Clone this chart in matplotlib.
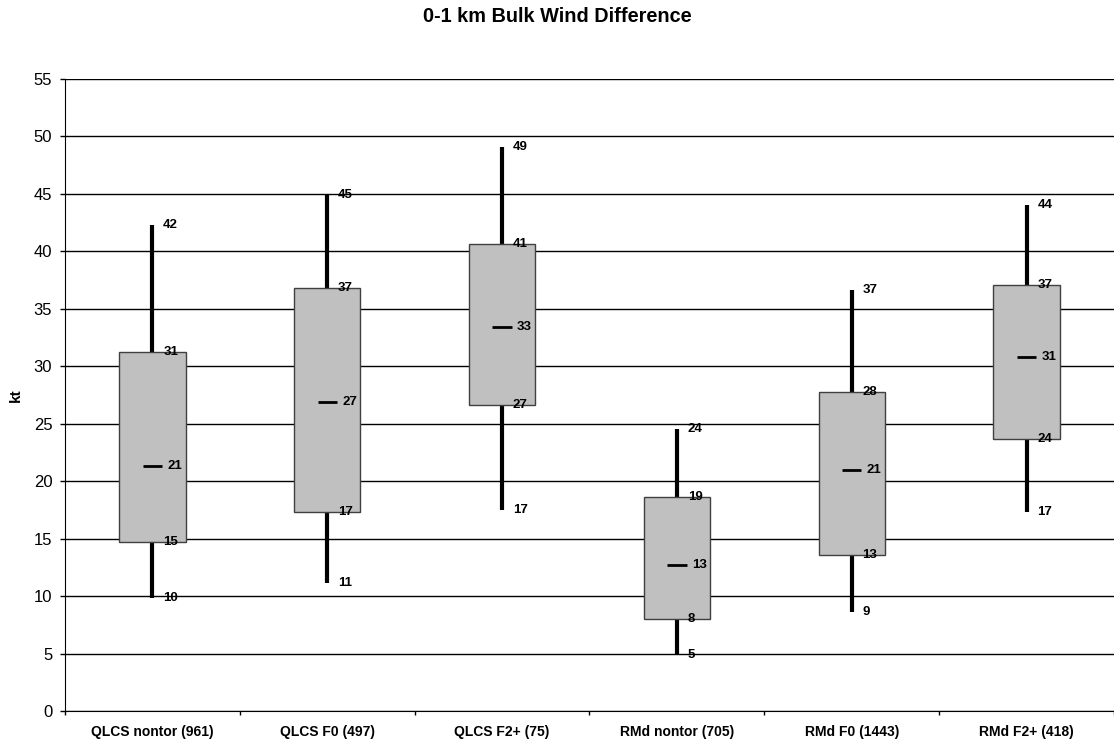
import matplotlib.pyplot as plt
from matplotlib.patches import Rectangle

plt.rcParams['font.family'] = ['Liberation Sans', 'DejaVu Sans']

categories = ["QLCS nontor (961)", "QLCS F0 (497)", "QLCS F2+ (75)",
              "RMd nontor (705)", "RMd F0 (1443)", "RMd F2+ (418)"]
whisker_low = [9.8, 11.1, 17.5, 4.9, 8.6, 17.3]
q1 = [14.7, 17.3, 26.6, 8.0, 13.6, 23.7]
median = [21.3, 26.9, 33.4, 12.7, 21.0, 30.8]
q3 = [31.2, 36.8, 40.6, 18.6, 27.8, 37.1]
whisker_high = [42.3, 44.9, 49.1, 24.5, 36.6, 44.0]

label_low = ["10", "11", "17", "5", "9", "17"]
label_q1 = ["15", "17", "27", "8", "13", "24"]
label_med = ["21", "27", "33", "13", "21", "31"]
label_q3 = ["31", "37", "41", "19", "28", "37"]
label_high = ["42", "45", "49", "24", "37", "44"]

fig = plt.figure(figsize=(11.14, 7.42), dpi=100)
ax = fig.add_axes([0.0583, 0.0418, 0.9417, 0.8518])

box_w = 0.38
lab_fs = 9.5
for i in range(len(categories)):
    c = i + 0.5
    ax.plot([c, c], [whisker_low[i], whisker_high[i]], color="black", lw=3,
            solid_capstyle="butt", zorder=2)
    ax.add_patch(Rectangle((c - box_w / 2, q1[i]), box_w, q3[i] - q1[i],
                           facecolor="#c0c0c0", edgecolor="#404040", lw=1, zorder=3))
    ax.plot([c - 0.055, c + 0.055], [median[i], median[i]], color="black", lw=2,
            solid_capstyle="butt", zorder=4)
    dx = 0.062
    ax.text(c + dx, whisker_high[i], label_high[i], fontsize=lab_fs, fontweight="bold",
            va="center", ha="left", zorder=5)
    ax.text(c + dx, q3[i], label_q3[i], fontsize=lab_fs, fontweight="bold",
            va="center", ha="left", zorder=5)
    ax.text(c + 0.085, median[i], label_med[i], fontsize=lab_fs, fontweight="bold",
            va="center", ha="left", zorder=5)
    ax.text(c + dx, q1[i], label_q1[i], fontsize=lab_fs, fontweight="bold",
            va="center", ha="left", zorder=5)
    ax.text(c + dx, whisker_low[i], label_low[i], fontsize=lab_fs, fontweight="bold",
            va="center", ha="left", zorder=5)

ax.set_xlim(0, len(categories))
ax.set_ylim(0, 55)
ax.set_yticks(range(0, 56, 5))
ax.set_yticklabels([str(v) for v in range(0, 56, 5)], fontsize=12)
ax.set_xticks(range(0, len(categories) + 1))
ax.set_xticklabels([])
ax.set_xticks([i + 0.5 for i in range(len(categories))], minor=True)
ax.set_xticklabels(categories, minor=True, fontsize=10, fontweight="bold")
ax.tick_params(axis="x", which="minor", length=0, pad=10)
ax.tick_params(axis="x", which="major", length=3, direction="out", width=1)
ax.tick_params(axis="y", length=3.6, direction="out", width=1, pad=5.5)
ax.yaxis.grid(True, color="black", lw=1)
ax.set_axisbelow(True)
for s in ["top", "right"]:
    ax.spines[s].set_visible(False)
ax.spines["left"].set_color("black")
ax.spines["bottom"].set_color("black")

ax.set_ylabel("kt", fontsize=11, fontweight="bold")
ax.yaxis.set_label_coords(-0.040, 0.5)
fig.text(0.5, 1 - 17 / 742, "0-1 km Bulk Wind Difference", ha="center", va="center",
         fontsize=14.3, fontweight="bold")

fig.savefig("out.png", dpi=100)
